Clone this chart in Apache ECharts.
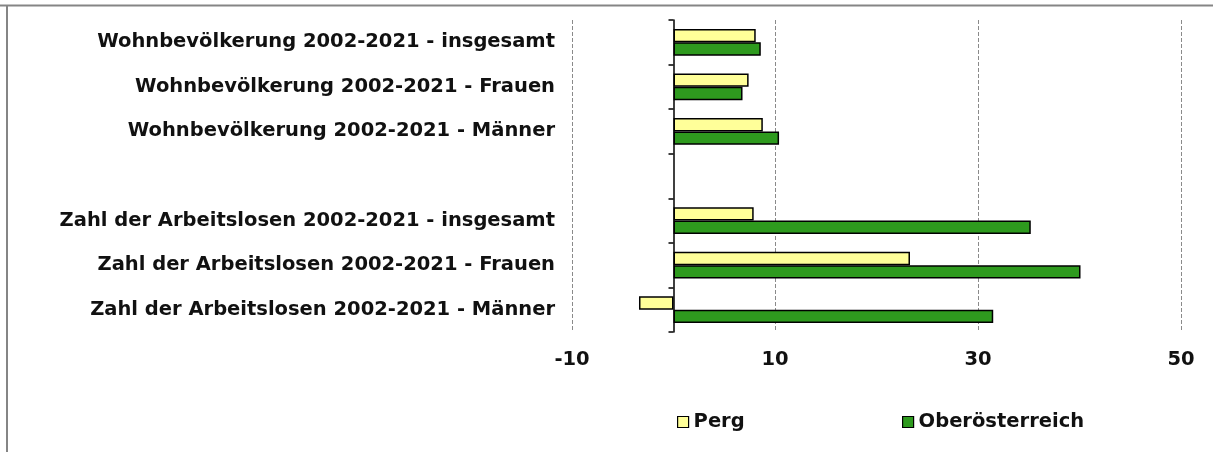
<!DOCTYPE html>
<html>
<head>
<meta charset="utf-8">
<script src="https://cdn.jsdelivr.net/npm/echarts@6/dist/echarts.min.js"></script>
<style>
html,body{margin:0;padding:0;background:#fff;}
#chart{width:1213px;height:452px;}
</style>
</head>
<body>
<div id="chart"></div>
<script>
const categories = [
  'Wohnbevölkerung 2002-2021 - insgesamt',
  'Wohnbevölkerung 2002-2021 - Frauen',
  'Wohnbevölkerung 2002-2021 - Männer',
  '',
  'Zahl der Arbeitslosen 2002-2021 - insgesamt',
  'Zahl der Arbeitslosen 2002-2021 - Frauen',
  'Zahl der Arbeitslosen 2002-2021 - Männer'
];
const seriesNames = ['Perg', 'Oberösterreich'];
const pergValues = [8.1, 7.4, 8.8, null, 7.9, 23.3, -3.4];
const ooeValues = [8.6, 6.8, 10.4, null, 35.2, 40.1, 31.5];
const xMin = -10, xMax = 50, xStep = 20;

const FONT = 'DejaVu Sans';
const chart = echarts.init(document.getElementById('chart'), null, {renderer: 'canvas'});
const labelStyle = {fontFamily: FONT, fontWeight: 'bold', fontSize: 19.5, color: '#111'};

chart.setOption({
  animation: false,
  backgroundColor: '#fff',
  grid: {left: 572, right: 32, top: 20, bottom: 120, containLabel: false, outerBoundsMode: 'none'},
  xAxis: {
    type: 'value', min: xMin, max: xMax, interval: xStep,
    axisLine: {show: false}, axisTick: {show: false},
    axisLabel: Object.assign({margin: 18}, labelStyle),
    splitLine: {show: true, lineStyle: {color: '#8a8a8a', type: [4, 2], width: 1}}
  },
  yAxis: [
    {
      type: 'category', data: categories, inverse: true, position: 'left',
      axisLine: {show: false, onZero: false}, axisTick: {show: false},
      axisLabel: Object.assign({margin: 17}, labelStyle)
    },
    {
      type: 'category', data: categories, inverse: true, position: 'left',
      axisLine: {show: true, onZero: true, lineStyle: {color: '#000', width: 1.5}},
      axisTick: {show: true, length: 5, lineStyle: {color: '#000', width: 1.5}},
      axisLabel: {show: false}
    }
  ],
  legend: [
    {data: [seriesNames[0]], left: 677, top: 412, padding: 0, itemWidth: 11, itemHeight: 11, itemGap: 0, itemTextGap: 4,
     icon: 'rect', itemStyle: {borderColor: '#000', borderWidth: 1.2}, textStyle: labelStyle},
    {data: [seriesNames[1]], left: 902, top: 412, padding: 0, itemWidth: 11, itemHeight: 11, itemGap: 0, itemTextGap: 4,
     icon: 'rect', itemStyle: {borderColor: '#000', borderWidth: 1.2}, textStyle: labelStyle}
  ],
  graphic: [
    {type: 'line', shape: {x1: 0, y1: 5.5, x2: 1213, y2: 5.5}, style: {stroke: '#858585', lineWidth: 2}},
    {type: 'line', shape: {x1: 7, y1: 5, x2: 7, y2: 452}, style: {stroke: '#858585', lineWidth: 2}}
  ],
  series: [
    {name: seriesNames[0], type: 'bar', data: pergValues, barGap: '0%', barCategoryGap: '40%',
     itemStyle: {color: '#FFFF99', borderColor: '#000', borderWidth: 1.5}},
    {name: seriesNames[1], type: 'bar', data: ooeValues, barGap: '0%', barCategoryGap: '40%',
     itemStyle: {color: '#2E9A1E', borderColor: '#000', borderWidth: 1.5}}
  ]
});
</script>
</body>
</html>
